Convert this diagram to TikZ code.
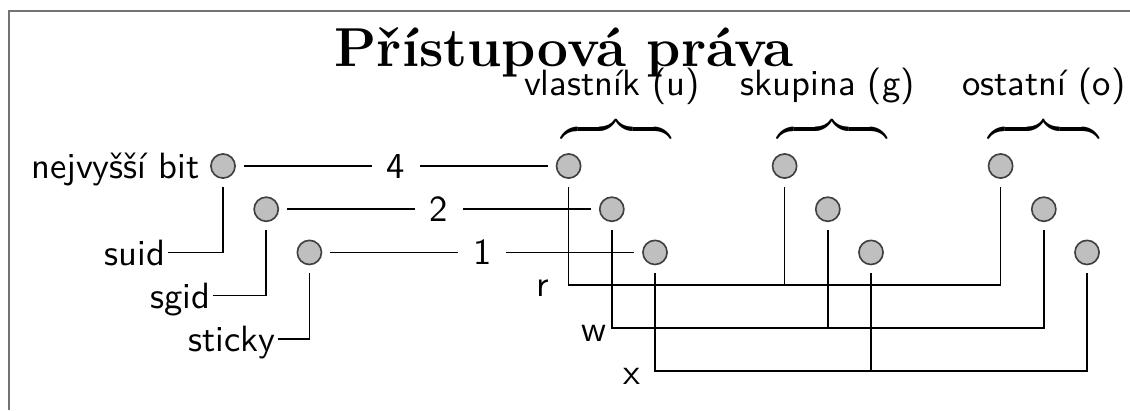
\documentclass[tikz,border=0pt]{standalone}
\usepackage{fontspec}
\usetikzlibrary{positioning}
\renewcommand{\familydefault}{\sfdefault}

\tikzset{
  bit/.style={circle, draw=black!75, fill=black!25, line width=0.45pt,
    minimum size=6.6pt, inner sep=0pt, outer sep=2.4pt},
  lbl/.style={inner sep=0.5pt, text depth=0pt},
  num/.style={fill=white, inner sep=4pt},
}

\begin{document}
\begin{tikzpicture}[x=0.415cm, y=0.415cm]
  \useasboundingbox (-5.162,-5.648) rectangle (20.995,3.843);
  \draw[black!55, line width=0.6pt] (-4.95,-5.648) -- (-4.95,3.59) -- (20.995,3.59);

  \node[font=\fontsize{15}{18}\selectfont\rmfamily\bfseries, anchor=base] (title) at (7.9,2.31) {Přístupová práva};

  % special bits
  \node[bit] (s4) at (0,0) {};
  \node[bit] (s2) at (1,-1) {};
  \node[bit] (s1) at (2,-2) {};
  \node[lbl, left=0pt of s4] (hibit) {nejvyšší bit};
  \node[lbl, anchor=east] (suid) at (-1.27,-2) {suid};
  \node[lbl, anchor=east] (sgid) at (-0.23,-3) {sgid};
  \node[lbl, anchor=east] (sticky) at (1.27,-4) {sticky};
  \draw (s4) |- (suid);
  \draw (s2) |- (sgid);
  \draw (s1) |- (sticky);

  % rwx bits of owner, group and others
  \foreach \g/\x in {u/8,g/13,o/18} {
    \node[bit] (\g r) at (\x,0) {};
    \node[bit] (\g w) at (\x+1,-1) {};
    \node[bit] (\g x) at (\x+2,-2) {};
  }
  \node[anchor=base] (lu) at (9,1.64) {vlastník (u)};
  \node[anchor=base] (lg) at (14,1.64) {skupina (g)};
  \node[anchor=base] (lo) at (19,1.64) {ostatní (o)};
  \node[anchor=south, inner sep=0pt] (bu) at (9.1,0.53) {$\overbrace{\hspace{30pt}}$};
  \node[anchor=south, inner sep=0pt] (bg) at (14.1,0.53) {$\overbrace{\hspace{30pt}}$};
  \node[anchor=south, inner sep=0pt] (bo) at (19,0.53) {$\overbrace{\hspace{30pt}}$};

  \path (s4) edge node[num] {4} (ur)
        (s2) edge node[num] {2} (uw)
        (s1) edge node[num] {1} (ux);

  % r, w and x lines
  \coordinate (rbus) at (13,-2.75);
  \coordinate (wbus) at (14,-3.75);
  \coordinate (xbus) at (15,-4.75);
  \draw (ur) |- (rbus) -| (or);
  \draw (gr) -- (rbus);
  \draw (uw) |- (wbus) -| (ow);
  \draw (gw) -- (wbus);
  \draw (ux) |- (xbus) -| (ox);
  \draw (gx) -- (xbus);
  \node[anchor=base] (lr) at (7.41,-3.03) {r};
  \node[anchor=base] (lw) at (8.58,-4.06) {w};
  \node[anchor=base] (lx) at (9.46,-5.05) {x};
\end{tikzpicture}
\end{document}
